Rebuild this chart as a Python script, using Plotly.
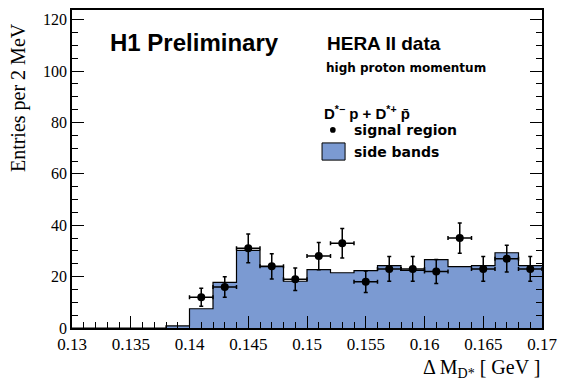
import plotly.graph_objects as go

# Histogram of side bands (bin edges, 2 MeV bins)
bin_edges = [0.130, 0.132, 0.134, 0.136, 0.138, 0.140, 0.142, 0.144, 0.146, 0.148,
             0.150, 0.152, 0.154, 0.156, 0.158, 0.160, 0.162, 0.164, 0.166, 0.168, 0.170]
side_bands = [0, 0, 0, 0, 0.8, 7.5, 17.8, 30.2, 23.9, 18.2,
              22.7, 21.5, 22.3, 24.3, 22.4, 26.6, 23.9, 24.3, 29.3, 24.3]

# Signal region data points
sig_x = [0.141, 0.143, 0.145, 0.147, 0.149, 0.151, 0.153, 0.155, 0.157, 0.159,
         0.161, 0.163, 0.165, 0.167, 0.169]
sig_y = [12, 16, 31, 24, 19, 28, 33, 18, 23, 23, 22, 35, 23, 27, 23]
sig_err = [3.5, 4.0, 5.6, 4.9, 4.4, 5.3, 5.7, 4.2, 4.8, 4.8, 4.7, 5.9, 4.8, 5.2, 4.8]

FILL = "#7b9ad2"
SERIF = "Liberation Serif, Times New Roman, serif"
SANS = "Liberation Sans, Arial, sans-serif"
WIDE = "DejaVu Sans, Verdana, sans-serif"

step_x = bin_edges
step_y = side_bands + [side_bands[-1]]

fig = go.Figure()
fig.add_trace(go.Scatter(
    x=step_x, y=step_y, mode="lines", line=dict(shape="hv", color="black", width=1.2),
    fill="tozeroy", fillcolor=FILL, showlegend=False, hoverinfo="skip"))
fig.add_trace(go.Scatter(
    x=sig_x, y=sig_y, mode="markers",
    marker=dict(color="black", size=8, symbol="circle"),
    error_y=dict(type="data", array=sig_err, color="black", thickness=1.5, width=2),
    error_x=dict(type="constant", value=0.001, color="black", thickness=1.5, width=2),
    showlegend=False))

# page body has an 8px margin, so the figure is 8px smaller and margins shifted
fig.update_layout(
    width=560, height=384,
    margin=dict(l=64, r=26, t=2, b=64, autoexpand=False),
    paper_bgcolor="white", plot_bgcolor="white",
    showlegend=False,
    xaxis=dict(range=[0.13, 0.17], dtick=0.005, tick0=0.13, ticks="inside", ticklen=12,
               tickcolor="black", showline=True, linecolor="black", linewidth=1.5,
               mirror=True, showgrid=False, zeroline=False,
               tickformat="~g",
               tickfont=dict(family=SERIF, size=17, color="black"),
               minor=dict(dtick=0.001, tick0=0.13, ticks="inside", ticklen=6,
                          tickcolor="black", showgrid=False)),
    yaxis=dict(range=[0, 123.8], dtick=20, ticks="inside", ticklen=12,
               tickcolor="black", showline=True, linecolor="black", linewidth=1.5,
               mirror="ticks", showgrid=False, zeroline=False,
               tickfont=dict(family=SERIF, size=16, color="black"),
               minor=dict(dtick=5, ticks="inside", ticklen=6, tickcolor="black",
                          showgrid=False)),
)

ann = []
ann.append(dict(text="Entries per 2 MeV", x=-0.115, y=0.726, xref="paper", yref="paper",
                textangle=-90, showarrow=False, xanchor="center", yanchor="middle",
                font=dict(family=SERIF, size=20, color="black")))
ann.append(dict(text="Δ M<sub>D*</sub> [ GeV ]", x=1.0, y=-0.126, xref="paper", yref="paper",
                showarrow=False, xanchor="right", yanchor="middle",
                font=dict(family=SERIF, size=20, color="black")))
ann.append(dict(text="<b>H1 Preliminary</b>", x=0.0766, y=0.899, xref="paper", yref="paper",
                showarrow=False, xanchor="left", yanchor="middle",
                font=dict(family=SANS, size=24, color="black")))
ann.append(dict(text="<b>HERA II data</b>", x=0.538, y=0.896, xref="paper", yref="paper",
                showarrow=False, xanchor="left", yanchor="middle",
                font=dict(family=SANS, size=19, color="black")))
ann.append(dict(text="<b>high proton momentum</b>", x=0.536, y=0.818, xref="paper", yref="paper",
                showarrow=False, xanchor="left", yanchor="middle",
                font=dict(family=WIDE, size=12, color="black")))
ann.append(dict(text="<b>D<sup>*−</sup> p + D<sup>*+</sup> p̄</b>", x=0.532, y=0.679,
                xref="paper", yref="paper", showarrow=False, xanchor="left", yanchor="middle",
                font=dict(family=SANS, size=15, color="black")))
ann.append(dict(text="<b>signal region</b>", x=0.596, y=0.623, xref="paper", yref="paper",
                showarrow=False, xanchor="left", yanchor="middle",
                font=dict(family=WIDE, size=14, color="black")))
ann.append(dict(text="<b>side bands</b>", x=0.596, y=0.553, xref="paper", yref="paper",
                showarrow=False, xanchor="left", yanchor="middle",
                font=dict(family=WIDE, size=14, color="black")))
fig.update_layout(annotations=ann)

fig.add_shape(type="rect", xref="paper", yref="paper", x0=0.532, x1=0.581, y0=0.528, y1=0.582,
              fillcolor=FILL, line=dict(color="black", width=1))
fig.add_shape(type="circle", xref="paper", yref="paper", x0=0.549, x1=0.561, y0=0.614, y1=0.632,
              fillcolor="black", line=dict(color="black", width=0))

fig.write_html("out.html")
